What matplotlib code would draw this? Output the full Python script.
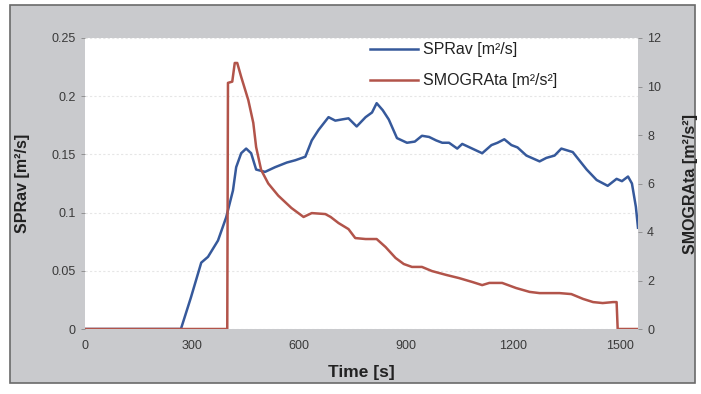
import matplotlib
matplotlib.use("Agg")
import matplotlib.pyplot as plt
from matplotlib.patches import Rectangle

# ---- DATA ----
sprav_t = [0, 269, 297, 326, 345, 373, 396, 415, 424, 438, 452, 466, 480, 505,
           533, 566, 590, 618, 636, 655, 683, 702, 720, 739, 762, 787, 805, 818,
           835, 852, 875, 903, 925, 945, 965, 985, 1002, 1021, 1044, 1058, 1086,
           1114, 1140, 1157, 1176, 1196, 1213, 1238, 1275, 1294, 1317, 1336,
           1368, 1407, 1435, 1466, 1491, 1506, 1523, 1534, 1545, 1551]
sprav_v = [0, 0, 0.027, 0.057, 0.062, 0.076, 0.096, 0.119, 0.139, 0.151, 0.155,
           0.151, 0.137, 0.135, 0.139, 0.143, 0.145, 0.148, 0.162, 0.171, 0.182,
           0.179, 0.180, 0.181, 0.174, 0.182, 0.186, 0.194, 0.188, 0.180, 0.164,
           0.160, 0.161, 0.166, 0.165, 0.162, 0.160, 0.160, 0.155, 0.159, 0.155,
           0.151, 0.158, 0.160, 0.163, 0.158, 0.156, 0.149, 0.144, 0.147, 0.149,
           0.155, 0.152, 0.137, 0.128, 0.123, 0.129, 0.127, 0.131, 0.125, 0.105,
           0.087]

smog_t = [0, 399, 401, 413, 420, 427, 438, 458, 472, 480, 494, 514, 542, 579,
          613, 636, 674, 689, 711, 739, 758, 787, 818, 843, 871, 894, 917, 945,
          973, 1013, 1049, 1086, 1114, 1134, 1170, 1209, 1247, 1275, 1331, 1364,
          1397, 1425, 1452, 1481, 1491, 1494, 1551]
smog_v = [0, 0, 10.15, 10.2, 10.97, 10.97, 10.4, 9.44, 8.5, 7.5, 6.56, 6.0,
          5.5, 4.99, 4.62, 4.78, 4.74, 4.62, 4.37, 4.12, 3.75, 3.71, 3.71, 3.38,
          2.93, 2.68, 2.56, 2.56, 2.39, 2.23, 2.10, 1.94, 1.81, 1.90, 1.90, 1.69,
          1.53, 1.48, 1.48, 1.44, 1.24, 1.11, 1.07, 1.11, 1.11, 0, 0]

x_ticks = [0, 300, 600, 900, 1200, 1500]
y1_ticks = [0, 0.05, 0.1, 0.15, 0.2, 0.25]
y1_labels = ["0", "0.05", "0.1", "0.15", "0.2", "0.25"]
y2_ticks = [0, 2, 4, 6, 8, 10, 12]

BLUE = "#36599b"
RED = "#b2544a"
GRAY_BG = "#c9cacd"
TXT = "#3a3a3a"

plt.rcParams["font.family"] = "Liberation Sans"

fig = plt.figure(figsize=(7.01, 3.94), dpi=100)
fig.patch.set_facecolor("white")

# grey chart area with border, like the spreadsheet chart frame
bg = fig.add_axes([0, 0, 1, 1], zorder=-10)
bg.set_xlim(0, 701)
bg.set_ylim(394, 0)
bg.axis("off")
bg.add_patch(Rectangle((10, 5), 685, 378, facecolor=GRAY_BG,
                       edgecolor="#6a6a6a", linewidth=1.2))

ax = fig.add_axes([85 / 701, 1 - 329 / 394, 553 / 701, 291 / 394], zorder=1)
ax.set_facecolor("white")
ax2 = ax.twinx()

l1, = ax.plot(sprav_t, sprav_v, color=BLUE, linewidth=1.8, label="SPRav [m²/s]")
l2, = ax2.plot(smog_t, smog_v, color=RED, linewidth=1.8, label="SMOGRAta [m²/s²]")

ax.set_xlim(0, 1551)
ax.set_ylim(0, 0.25)
ax2.set_ylim(0, 12)
ax.set_xticks(x_ticks)
ax.set_yticks(y1_ticks)
ax.set_yticklabels(y1_labels)
ax2.set_yticks(y2_ticks)

ax.grid(axis="y", color="#e6e6e6", linewidth=0.8, linestyle=(0, (2, 2)))
ax.set_axisbelow(True)

for a in (ax, ax2):
    for s in a.spines.values():
        s.set_visible(False)
    a.tick_params(colors="#888888", labelcolor=TXT, labelsize=9, length=3,
                  width=0.6)
ax.tick_params(axis="x", length=0, pad=8)

ax.set_xlabel("Time [s]", fontsize=12.5, fontweight="bold", color="#222222",
              labelpad=9)
ax.set_ylabel("SPRav [m²/s]", fontsize=11.5, fontweight="bold",
              color="#222222", labelpad=16)
ax2.set_ylabel("SMOGRAta [m²/s²]", fontsize=11.5, fontweight="bold",
               color="#222222", labelpad=16)

ax2.legend(handles=[l1, l2], loc="upper left", bbox_to_anchor=(0.49, 1.035),
           frameon=False, fontsize=11.5, handlelength=3.0, handletextpad=0.3,
           labelspacing=1.0, labelcolor="#222222")

fig.savefig("out.png", dpi=100, facecolor=fig.get_facecolor())
